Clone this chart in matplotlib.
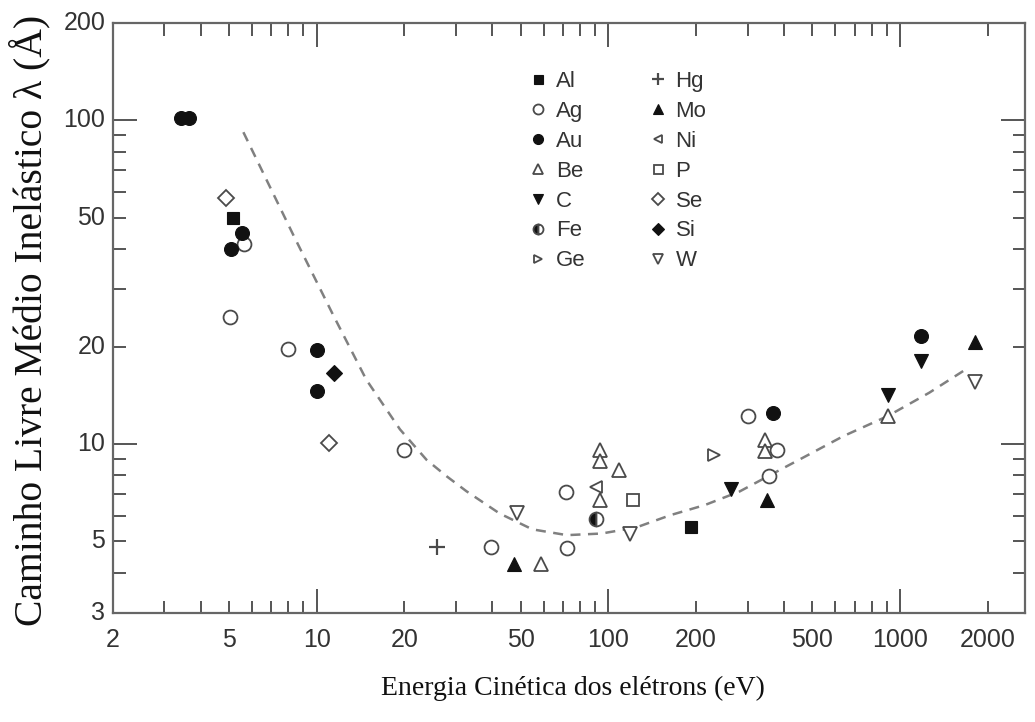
import matplotlib
matplotlib.use("Agg")
import matplotlib.pyplot as plt
from matplotlib.ticker import LogLocator, FixedLocator, NullFormatter

# ---------------- data ----------------
al_x = [5.16, 192]
al_y = [49.7, 5.55]
ag_x = [5.64, 5.05, 8.0, 20.0, 39.7, 72.1, 71.5, 301, 354.8, 377.7]
ag_y = [41.5, 24.7, 19.7, 9.6, 4.8, 4.78, 7.13, 12.2, 7.94, 9.56]
au_x = [3.43, 3.65, 5.53, 5.09, 10.0, 10.0, 366.6, 1176]
au_y = [101.6, 101.6, 44.9, 40.1, 19.5, 14.6, 12.5, 21.5]
be_x = [58.8, 93.9, 93.9, 93.9, 109.1, 345, 345, 907.8]
be_y = [4.27, 9.6, 8.84, 6.71, 8.32, 10.3, 9.5, 12.2]
c_x = [263, 907.8, 1176]
c_y = [7.26, 14.2, 18.1]
fe_x = [90.4]
fe_y = [5.86]
ge_x = [229.5]
ge_y = [9.26]
hg_x = [25.9]
hg_y = [4.81]
mo_x = [47.3, 350, 1800]
mo_y = [4.27, 6.71, 20.7]
ni_x = [90.4]
ni_y = [7.39]
p_x = [121]
p_y = [6.71]
se_x = [4.89, 11.04]
se_y = [57.7, 10.07]
si_x = [11.5]
si_y = [16.6]
w_x = [48.8, 118.7, 1800]
w_y = [6.1, 5.29, 15.5]

curve_x = [5.61, 8.32, 11.4, 14.8, 19.3, 23.8, 27.9, 32.6, 42.4, 54.9, 72.1,
           94.7, 124.3, 163.3, 214.4, 281.4, 369.5, 485, 637, 907.8, 1259, 1680]
curve_y = [91.8, 44.2, 25.0, 15.8, 11.1, 8.94, 7.95, 7.15, 6.1, 5.45, 5.23,
           5.29, 5.52, 6.03, 6.48, 7.13, 8.13, 9.26, 10.56, 12.2, 14.4, 17.0]

x_ticks = [2, 5, 10, 20, 50, 100, 200, 500, 1000, 2000]
y_ticks = [3, 5, 10, 20, 50, 100, 200]

xlabel = "Energia Cinética dos elétrons (eV)"
ylabel = "Caminho Livre Médio Inelástico λ (Å)"

# ---------------- figure ----------------
W, H = 1035, 722
fig = plt.figure(figsize=(W / 100, H / 100), dpi=100)
ax = fig.add_axes([112.7 / W, 1 - 613.3 / H, (1025 - 112.7) / W, (613.3 - 22.7) / H])
ax.set_xscale("log")
ax.set_yscale("log")
ax.set_xlim(2, 2680)
ax.set_ylim(3, 200)

dark = "#4a4a4a"
black = "#111111"
ms = 10
mew = 1.3

def filled(x, y, m, label, size=ms):
    ax.plot(x, y, linestyle="none", marker=m, ms=size, mfc=black, mec=black,
            mew=0.8, label=label, zorder=3)

def hollow(x, y, m, label, size=ms):
    ax.plot(x, y, linestyle="none", marker=m, ms=size, mfc="white", mec=dark,
            mew=mew, label=label, zorder=3)

ax.plot(curve_x, curve_y, color="#808080", lw=1.8, linestyle=(0, (4, 3)), zorder=2)

filled(al_x, al_y, "s", "Al", 9)
hollow(ag_x, ag_y, "o", "Ag")
filled(au_x, au_y, "o", "Au")
hollow(be_x, be_y, "^", "Be")
filled(c_x, c_y, "v", "C")
ax.plot(fe_x, fe_y, linestyle="none", marker="o", ms=ms, fillstyle="left",
        mfc=black, mfcalt="white", mec=dark, mew=mew, label="Fe", zorder=3)
hollow(ge_x, ge_y, ">", "Ge", 8)
ax.plot(hg_x, hg_y, linestyle="none", marker="+", ms=12, mec=dark, mew=1.6,
        label="Hg", zorder=3)
filled(mo_x, mo_y, "^", "Mo")
hollow(ni_x, ni_y, "<", "Ni", 8)
hollow(p_x, p_y, "s", "P", 9)
hollow(se_x, se_y, "D", "Se", 8.5)
filled(si_x, si_y, "D", "Si", 8.5)
hollow(w_x, w_y, "v", "W")

# ---------------- axes styling ----------------
spine_c = "#666666"
for s in ax.spines.values():
    s.set_color(spine_c)
    s.set_linewidth(1.6)

ax.xaxis.set_major_locator(FixedLocator([10, 100, 1000]))
ax.yaxis.set_major_locator(FixedLocator([10, 100]))
ax.xaxis.set_minor_locator(LogLocator(base=10, subs=range(2, 10)))
ax.yaxis.set_minor_locator(LogLocator(base=10, subs=range(2, 10)))
for a in (ax.xaxis, ax.yaxis):
    a.set_major_formatter(NullFormatter())
    a.set_minor_formatter(NullFormatter())
ax.tick_params(which="both", direction="in", top=True, right=True,
               color="#555555", width=1.4)
ax.tick_params(which="major", length=17)
ax.tick_params(which="minor", length=9)

tick_font = dict(family="Liberation Sans", size=18, color="#333333")
for v in x_ticks:
    ax.text(v, -0.025, str(v), transform=ax.get_xaxis_transform(),
            ha="center", va="top", **tick_font)
for v in y_ticks:
    ax.text(-0.008, v, str(v), transform=ax.get_yaxis_transform(),
            ha="right", va="center", **tick_font)

fig.text(30 / W, 1 - 320 / H, ylabel, rotation=90, ha="center", va="center",
         family="Liberation Serif", size=28.5, color="#111111")
fig.text(573 / W, 1 - 688 / H, xlabel, ha="center", va="center",
         family="Liberation Serif", size=20, color="#111111")

leg = ax.legend(ncol=2, loc="upper left", bbox_to_anchor=(527 / W, 1 - 71 / H),
                bbox_transform=fig.transFigure, frameon=False, markerscale=0.72,
                handlelength=1.0, handletextpad=0.3, columnspacing=2.75,
                labelspacing=0.4, borderpad=0, borderaxespad=0,
                prop=dict(family="Liberation Sans", size=16), numpoints=1)
for t in leg.get_texts():
    t.set_color("#333333")

fig.savefig("out.png", dpi=100)
